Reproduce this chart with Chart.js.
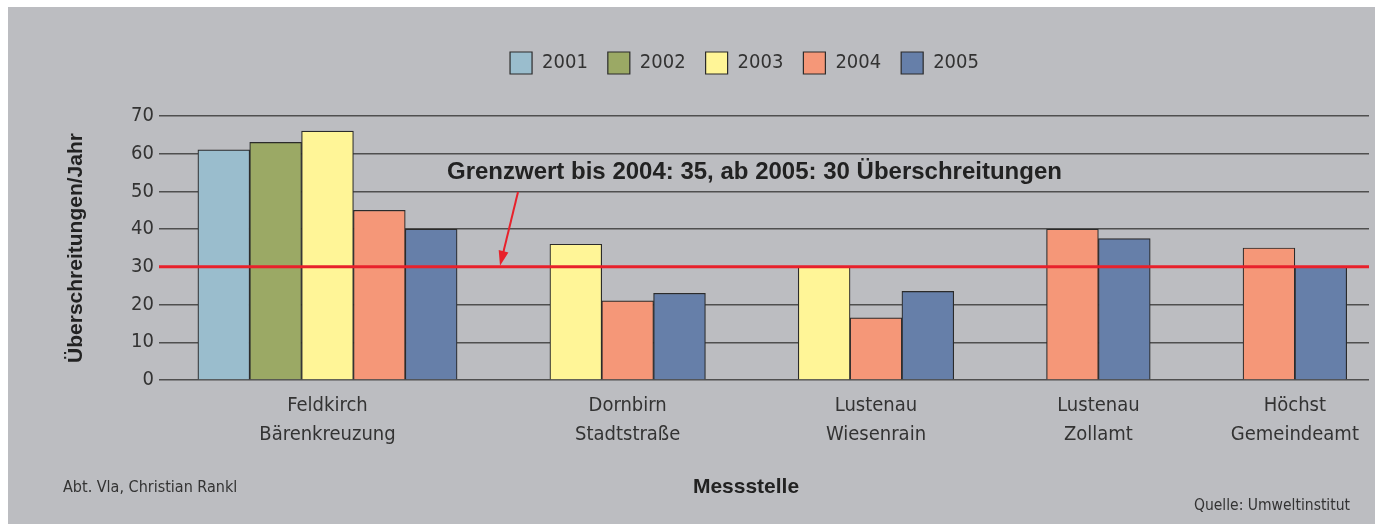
<!DOCTYPE html>
<html>
<head>
<meta charset="utf-8">
<script src="https://cdn.jsdelivr.net/npm/chart.js@4.4.1/dist/chart.umd.min.js"></script>
<style>
  html, body { margin: 0; padding: 0; background: #fff; }
  #wrap { position: absolute; left: 8px; top: 7px; width: 1367px; height: 517px; background: #bcbdc1; }
</style>
</head>
<body>
<div id="wrap"><canvas id="grenzwertChart"></canvas></div>
<script>
// Messstellen (Kategorien) und Jahreswerte
const stations = [
    ['Feldkirch', 'Bärenkreuzung'],
    ['Dornbirn', 'Stadtstraße'],
    ['Lustenau', 'Wiesenrain'],
    ['Lustenau', 'Zollamt'],
    ['Höchst', 'Gemeindeamt']
];
const years = ['2001', '2002', '2003', '2004', '2005'];
const values2001 = [61, null, null, null, null];
const values2002 = [63, null, null, null, null];
const values2003 = [66, 36, 30, null, null];
const values2004 = [45, 21, 16.5, 40, 35];
const values2005 = [40, 23, 23.5, 37.5, 30];
const yearColors = ['#9abdcd', '#9ba965', '#fff597', '#f59778', '#667fa9'];
const yTickMin = 0;
const yTickMax = 70;
const yTickStep = 10;
const limitValue = 30;
const limitText = 'Grenzwert bis 2004: 35, ab 2005: 30 Überschreitungen';

const narrow = "'DejaVu Sans Condensed', sans-serif";
const bold = "'Liberation Sans', Arial, sans-serif";

// bars without a value take no room, so each station only gets the slots it needs
const GAP = 1.79;
const allValues = [values2001, values2002, values2003, values2004, values2005];
const series = allValues.map(() => []);
const stationCenters = [];
let slot = 0;
stations.forEach((st, i) => {
    const start = slot;
    allValues.forEach((vals, j) => {
        if (vals[i] !== null) {
            series[j].push({ x: slot + 0.5, y: vals[i] });
            slot += 1;
        }
    });
    stationCenters.push((start + slot) / 2);
    slot += GAP;
});
const lastSlot = slot - GAP;

const legendSpacer = {
    id: 'legendSpacer',
    afterInit(chart) {
        const fit = chart.legend.fit;
        chart.legend.fit = function () {
            fit.call(this);
            this.height = 84;
        };
    },
    afterLayout(chart) {
        // legend sits a bit right of the canvas centre in the original
        chart.legend.left += 56;
        chart.legend.right += 56;
    }
};

const limitLine = {
    id: 'limitLine',
    afterDatasetsDraw(chart) {
        const { ctx, chartArea, scales } = chart;
        const y = scales.y.getPixelForValue(limitValue);
        ctx.save();
        ctx.strokeStyle = '#e8212b';
        ctx.lineWidth = 3;
        ctx.beginPath();
        ctx.moveTo(chartArea.left, y);
        ctx.lineTo(chartArea.right, y);
        ctx.stroke();

        // label and arrow
        const textX = chartArea.left + 288;
        const textY = chartArea.top + 56;
        ctx.font = 'bold 24px ' + bold;
        ctx.fillStyle = '#222';
        ctx.textBaseline = 'middle';
        ctx.textAlign = 'left';
        ctx.fillText(limitText, textX, textY);

        const tipX = chartArea.left + 341;
        const tipY = y - 1;
        const fromX = tipX + 18;
        const fromY = textY + 20;
        const ang = Math.atan2(tipY - fromY, tipX - fromX);
        ctx.lineWidth = 2;
        ctx.strokeStyle = '#e8212b';
        ctx.fillStyle = '#e8212b';
        ctx.beginPath();
        ctx.moveTo(fromX, fromY);
        ctx.lineTo(tipX - Math.cos(ang) * 10, tipY - Math.sin(ang) * 10);
        ctx.stroke();
        ctx.beginPath();
        ctx.moveTo(tipX, tipY);
        ctx.lineTo(tipX - Math.cos(ang) * 15 + Math.sin(ang) * 5, tipY - Math.sin(ang) * 15 - Math.cos(ang) * 5);
        ctx.lineTo(tipX - Math.cos(ang) * 15 - Math.sin(ang) * 5, tipY - Math.sin(ang) * 15 + Math.cos(ang) * 5);
        ctx.closePath();
        ctx.fill();
        ctx.restore();
    },
    afterDraw(chart) {
        const { ctx, chartArea } = chart;
        ctx.save();
        ctx.fillStyle = '#222';
        ctx.textBaseline = 'middle';
        ctx.font = 'bold 21px ' + bold;
        ctx.textAlign = 'center';
        ctx.fillText('Messstelle', 738, chartArea.bottom + 107);
        ctx.font = '16px ' + narrow;
        ctx.fillStyle = '#333';
        ctx.textAlign = 'left';
        ctx.fillText('Abt. Vla, Christian Rankl', 55, chartArea.bottom + 108);
        ctx.font = '15.5px ' + narrow;
        ctx.textAlign = 'right';
        ctx.fillText('Quelle: Umweltinstitut', 1342, chartArea.bottom + 126);
        ctx.restore();
    }
};

const ctx = document.getElementById('grenzwertChart').getContext('2d');
new Chart(ctx, {
    type: 'bar',
    data: {
        datasets: years.map((yr, j) => ({
            label: yr,
            data: series[j],
            backgroundColor: yearColors[j],
            borderColor: '#2b2b2b',
            borderWidth: 1.2
        }))
    },
    options: {
        responsive: true,
        maintainAspectRatio: false,
        animation: false,
        layout: { padding: { top: 25, right: 6, bottom: 0, left: 0 } },
        datasets: { bar: { grouped: false, barPercentage: 1, categoryPercentage: 1 } },
        plugins: {
            legend: {
                position: 'top',
                labels: {
                    boxWidth: 22,
                    boxHeight: 22,
                    padding: 20,
                    color: '#333',
                    font: { family: narrow, size: 20 }
                }
            },
            tooltip: { enabled: false }
        },
        scales: {
            x: {
                type: 'linear',
                offset: false,
                min: -0.75,
                max: lastSlot + 0.43,
                grid: { display: false, drawTicks: false },
                border: { display: false },
                afterBuildTicks: (scale) => {
                    scale.ticks = stationCenters.map(v => ({ value: v }));
                },
                afterFit: (scale) => { scale.height = 144; },
                ticks: {
                    autoSkip: false,
                    maxRotation: 0,
                    padding: 11,
                    color: '#333',
                    font: { family: narrow, size: 20, lineHeight: 1.45 },
                    callback: (value, index) => stations[index]
                }
            },
            y: {
                min: yTickMin,
                max: yTickMax,
                grid: { color: '#4f4f4f', lineWidth: 1.5, drawTicks: false },
                border: { display: false },
                afterFit: (scale) => { scale.width = 151; },
                ticks: {
                    stepSize: yTickStep,
                    padding: 5,
                    color: '#333',
                    font: { family: narrow, size: 20 }
                },
                title: {
                    display: true,
                    text: 'Überschreitungen/Jahr',
                    color: '#222',
                    padding: { top: 56, bottom: 0 },
                    font: { family: bold, size: 21, weight: 'bold' }
                }
            }
        }
    },
    plugins: [legendSpacer, limitLine]
});
</script>
</body>
</html>
